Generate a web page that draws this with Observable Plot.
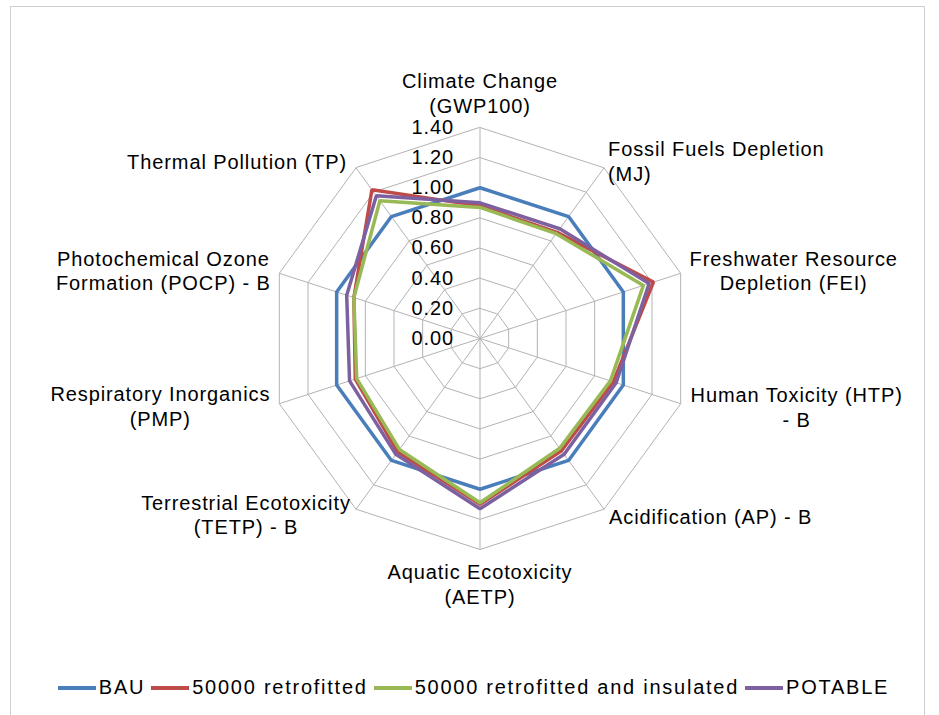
<!DOCTYPE html>
<html>
<head>
<meta charset="utf-8">
<script src="https://cdn.jsdelivr.net/npm/d3@7"></script>
<script src="https://cdn.jsdelivr.net/npm/@observablehq/plot@0.6"></script>
<style>
  html, body { margin: 0; padding: 0; background: #fff; }
  #wrap { position: relative; width: 939px; height: 715px; overflow: hidden; font-family: "Liberation Sans", Arial, sans-serif; }
  #frame { position: absolute; left: 10px; top: 6px; width: 915px; height: 720px; border: 1px solid #cfcfcf; box-sizing: border-box; }
  #chart { position: absolute; left: 0; top: 0; }
  #legend { position: absolute; left: 0; top: 676px; width: 939px; display: flex; justify-content: center; align-items: center; font-size: 20px; letter-spacing: 1.75px; color: #000; padding-left: 8px; box-sizing: border-box; }
  .item { display: flex; align-items: center; margin: 0 3px; }
  .sw { width: 38px; height: 4px; margin-right: 3px; }
</style>
</head>
<body>
<div id="wrap">
  <div id="frame"></div>
  <div id="chart"></div>
  <div id="legend"></div>
</div>
<script>
// ---- data ----
const categories = [
  "Climate Change\n(GWP100)",
  "Fossil Fuels Depletion\n(MJ)",
  "Freshwater Resource\nDepletion (FEI)",
  "Human Toxicity (HTP)\n- B",
  "Acidification (AP) - B",
  "Aquatic Ecotoxicity\n(AETP)",
  "Terrestrial Ecotoxicity\n(TETP) - B",
  "Respiratory Inorganics\n(PMP)",
  "Photochemical Ozone\nFormation (POCP) - B",
  "Thermal Pollution (TP)"
];
const seriesNames = ["BAU", "50000 retrofitted", "50000 retrofitted and insulated", "POTABLE"];
const bau      = [1.00, 1.00, 1.00, 1.00, 1.00, 1.00, 1.00, 1.00, 1.00, 1.00];
const retro    = [0.88, 0.87, 1.21, 0.93, 0.92, 1.10, 0.93, 0.87, 0.88, 1.22];
const insul    = [0.87, 0.86, 1.14, 0.91, 0.90, 1.09, 0.91, 0.86, 0.88, 1.13];
const potable  = [0.90, 0.90, 1.18, 0.95, 0.95, 1.13, 0.95, 0.91, 0.93, 1.17];
const tickValues = [0, 0.2, 0.4, 0.6, 0.8, 1.0, 1.2, 1.4];
const tickLabels = ["0.00", "0.20", "0.40", "0.60", "0.80", "1.00", "1.20", "1.40"];

// ---- styles / layout ----
const colors = ["#4a7ebb", "#be4b48", "#98b954", "#7d60a0"];
const labelLayout = [
  {dx: 0,    dy: -35, anchor: "middle"},
  {dx: 4,    dy: -7,  anchor: "start"},
  {dx: 113,  dy: -3,  anchor: "middle"},
  {dx: 116,  dy: 3,   anchor: "middle"},
  {dx: 5,    dy: 7,   anchor: "start"},
  {dx: 0,    dy: 34,  anchor: "middle"},
  {dx: -110, dy: 5,   anchor: "middle"},
  {dx: -119, dy: 2,   anchor: "middle"},
  {dx: -116, dy: -3,  anchor: "middle"},
  {dx: -9,   dy: -7,  anchor: "end"}
];

const n = categories.length;
const maxV = tickValues[tickValues.length - 1];
const ang = i => i * 2 * Math.PI / n;
const px = (i, r) => r * Math.sin(ang(i));
const py = (i, r) => r * Math.cos(ang(i));

const seriesVals = [bau, retro, insul, potable];
const rows = [];
seriesVals.forEach((vals, s) => vals.forEach((v, i) => rows.push({series: seriesNames[s], s, i, x: px(i, v), y: py(i, v)})));

const grid = [];
tickValues.filter(t => t > 0).forEach(t => categories.forEach((c, i) => grid.push({level: t, x: px(i, t), y: py(i, t)})));
const spokes = categories.map((c, i) => ({x1: 0, y1: 0, x2: px(i, maxV), y2: py(i, maxV)}));
const ticks = tickValues.map((t, k) => ({x: 0, y: t, label: tickLabels[k]}));

const cx = 479.5, cy = 338, R = 211;
const marks = [
  Plot.line(grid, {x: "x", y: "y", z: "level", curve: "linear-closed", stroke: "#b3b3b3", strokeWidth: 1}),
  Plot.link(spokes, {x1: "x1", y1: "y1", x2: "x2", y2: "y2", stroke: "#b3b3b3", strokeWidth: 1}),
  Plot.text(ticks, {x: "x", y: "y", text: "label", textAnchor: "end", dx: -26, fontSize: 20, fill: "#000"})
];
seriesNames.forEach((name, s) => {
  marks.push(Plot.line(rows.filter(d => d.s === s), {x: "x", y: "y", curve: "linear-closed", stroke: colors[s], strokeWidth: 3.5, strokeLinejoin: "miter"}));
});
categories.forEach((c, i) => {
  const L = labelLayout[i];
  marks.push(Plot.text([{x: px(i, maxV), y: py(i, maxV), t: c}], {x: "x", y: "y", text: "t", dx: L.dx, dy: L.dy, textAnchor: L.anchor, lineAnchor: "middle", lineHeight: 1.22, fontSize: 20, fill: "#000"}));
});

const chart = Plot.plot({
  width: 939,
  height: 660,
  margin: 0,
  style: {fontFamily: "'Liberation Sans', Arial, sans-serif", background: "transparent", letterSpacing: "0.9px"},
  x: {domain: [-maxV, maxV], range: [cx - R, cx + R], axis: null},
  y: {domain: [-maxV, maxV], range: [cy + R, cy - R], axis: null},
  marks
});
document.getElementById("chart").appendChild(chart);

const leg = document.getElementById("legend");
seriesNames.forEach((name, s) => {
  const it = document.createElement("div");
  it.className = "item";
  const sw = document.createElement("div");
  sw.className = "sw";
  sw.style.background = colors[s];
  const tx = document.createElement("span");
  tx.textContent = name;
  it.appendChild(sw); it.appendChild(tx);
  leg.appendChild(it);
});
</script>
</body>
</html>
